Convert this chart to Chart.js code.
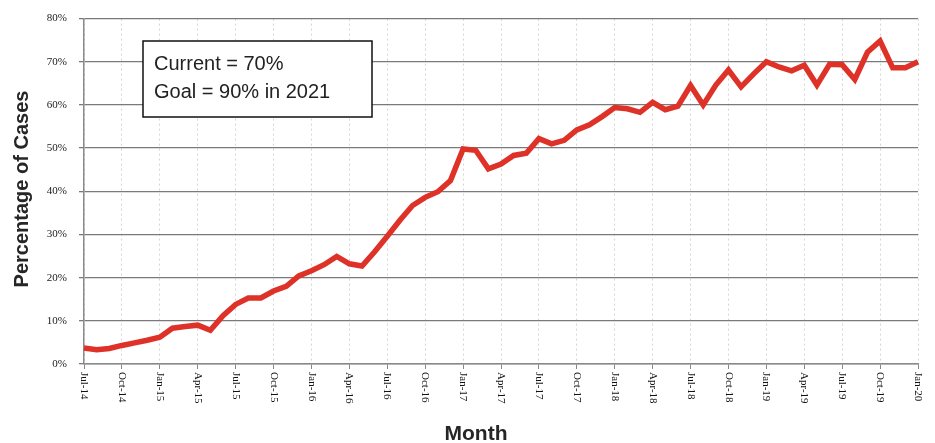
<!DOCTYPE html>
<html>
<head>
<meta charset="utf-8">
<title>Percentage of Cases by Month</title>
<script src="https://cdn.jsdelivr.net/npm/chart.js@4/dist/chart.umd.min.js"></script>
<style>
    body { margin: 0; background: #ffffff; }
    canvas { display: block; }
</style>
</head>
<body>
<canvas id="cases-canvas" width="935" height="443"></canvas>
<script>
// monthly categories Jul-14 .. Jan-20
var monthNames = ['Jan', 'Feb', 'Mar', 'Apr', 'May', 'Jun', 'Jul', 'Aug', 'Sep', 'Oct', 'Nov', 'Dec'];
var months = [];
for (var m = 6; m <= 6 + 66; m++) {
    months.push(monthNames[m % 12] + '-' + (14 + Math.floor(m / 12)));
}

// percentage of cases, one value per month
var percentCases = [
    3.7, 3.3, 3.6, 4.3, 4.9, 5.5, 6.2, 8.3, 8.7, 9.0, 7.8, 11.2,
    13.8, 15.3, 15.3, 16.9, 18.0, 20.4, 21.6, 23.0, 24.9, 23.2, 22.7, 26.0,
    29.6, 33.3, 36.7, 38.6, 39.9, 42.5, 49.8, 49.5, 45.2, 46.3, 48.3, 48.8,
    52.2, 51.0, 51.8, 54.2, 55.4, 57.3, 59.4, 59.1, 58.3, 60.6, 58.9, 59.7,
    64.5, 60.0, 64.6, 68.1, 64.2, 67.2, 70.0, 68.8, 67.9, 69.2, 64.6, 69.4,
    69.3, 65.9, 72.2, 74.8, 68.6, 68.6, 70.0
];

var tickEvery = 3;
var yTicks = [0, 10, 20, 30, 40, 50, 60, 70, 80];
var noteLines = ['Current = 70%', 'Goal = 90% in 2021'];

var extras = {
    id: 'extras',
    afterDraw: function (chart) {
        var ctx = chart.ctx;
        var xs = chart.scales.x;
        var area = chart.chartArea;

        // month labels, rotated to read top-down
        ctx.save();
        ctx.fillStyle = '#111';
        ctx.font = '11px "Liberation Serif", serif';
        ctx.textAlign = 'left';
        ctx.textBaseline = 'middle';
        for (var i = 0; i < months.length; i += tickEvery) {
            ctx.save();
            ctx.translate(xs.getPixelForValue(i), area.bottom + 8);
            ctx.rotate(Math.PI / 2);
            ctx.fillText(months[i], 0, 0);
            ctx.restore();
        }
        ctx.restore();

        // axis titles
        ctx.save();
        ctx.fillStyle = '#262626';
        ctx.font = 'bold 21px "Liberation Sans", Arial, sans-serif';
        ctx.textAlign = 'center';
        ctx.textBaseline = 'alphabetic';
        ctx.fillText('Month', 476, 440);
        ctx.font = 'bold 20px "Liberation Sans", Arial, sans-serif';
        ctx.translate(28, 189);
        ctx.rotate(-Math.PI / 2);
        ctx.fillText('Percentage of Cases', 0, 0);
        ctx.restore();

        // note box
        ctx.save();
        ctx.fillStyle = '#ffffff';
        ctx.fillRect(143, 41, 229, 76);
        ctx.strokeStyle = '#111';
        ctx.lineWidth = 1.5;
        ctx.strokeRect(143, 41, 229, 76);
        ctx.fillStyle = '#222';
        ctx.font = '20px "Liberation Sans", Arial, sans-serif';
        ctx.textAlign = 'left';
        ctx.fillText(noteLines[0], 154, 70);
        ctx.fillText(noteLines[1], 154, 98);
        ctx.restore();
    }
};

var config = {
    type: 'line',
    data: {
        labels: months,
        datasets: [{
            label: 'Percentage of Cases',
            data: percentCases,
            borderColor: '#de3128',
            borderWidth: 5.5,
            pointRadius: 0,
            tension: 0,
            fill: false
        }]
    },
    options: {
        responsive: false,
        animation: false,
        layout: {
            padding: { top: 15, right: 17, left: 0, bottom: 0 }
        },
        plugins: {
            legend: { display: false },
            tooltip: { enabled: false }
        },
        scales: {
            x: {
                offset: false,
                afterFit: function (scale) { scale.height = 79; },
                ticks: { display: false, autoSkip: false },
                grid: {
                    color: function (c) { return c.index % tickEvery === 0 ? '#d4d4d4' : 'rgba(0,0,0,0)'; },
                    tickColor: function (c) { return c.index % tickEvery === 0 ? '#888' : 'rgba(0,0,0,0)'; },
                    lineWidth: 1,
                    tickLength: 5
                },
                border: { color: '#8a8a8a', width: 1.5, dash: [2, 3] }
            },
            y: {
                min: 0,
                max: 80,
                afterFit: function (scale) { scale.width = 84; },
                afterBuildTicks: function (scale) {
                    scale.ticks = yTicks.map(function (v) { return { value: v }; });
                },
                ticks: {
                    padding: 12,
                    color: '#1a1a1a',
                    font: { family: '"Liberation Serif", serif', size: 11 },
                    callback: function (v) { return v + '%'; }
                },
                grid: {
                    color: '#7a7a7a',
                    lineWidth: 1.3,
                    tickLength: 5
                },
                border: { color: '#8a8a8a', width: 1.5 }
            }
        }
    },
    plugins: [extras]
};

var ctx = document.getElementById('cases-canvas').getContext('2d');
window.casesChart = new Chart(ctx, config);
</script>
</body>
</html>
